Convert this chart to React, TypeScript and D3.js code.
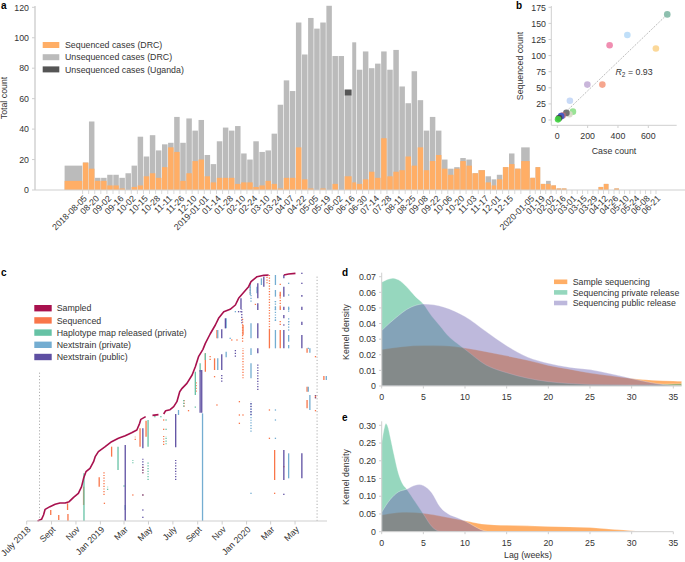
import * as React from 'react';
import * as d3 from 'd3';

// a: weekly counts
const totalDRC = [16,18,45,8,8,10,10,8,11,16,35,22,36,26,30,31,48,31,47,39,46,23,17,32,41,39,42,24,20,32,25,26,37,56,72,65,110,89,113,106,110,121,88,88,62,97,79,91,80,83,91,79,92,68,57,78,59,39,48,39,20,14,15,21,20,11,13,9,7,10,15,24,14,28,8,15,4,6,3,1,1,0,0,0,0,0,0,2,4,0,1,0,0,0,0,0,0,0,0,0];
const sequencedDRC = [6,18,14,6,6,3,3,1,0,2,3,9,11,8,15,28,25,6,11,19,20,9,5,8,8,8,4,5,5,2,3,6,4,1,8,8,28,7,1,0,1,0,4,0,9,5,4,7,12,8,34,9,12,13,22,16,28,13,19,23,14,10,14,19,16,11,13,5,3,7,15,17,14,19,8,15,4,4,3,1,1,0,0,0,0,0,0,2,4,0,1,0,0,0,0,0,0,0,0,0];
const ugandaCases: Record<number, number> = { 44: 4 };
// most bins are one slot, a few were pooled or cut short
const binSlots: Record<number, number> = { 0: 3, 44: 1.25, 45: 0.75, 66: 1.15, 68: 0.85, 73: 1.5 };
const weekLabels = ['2018-08-05','08-20','09-02','09-16','10-02','10-15','10-28','11-11','11-26','12-10','2019-01-01','01-14','01-28','02-10','02-24','03-10','03-24','04-07','04-22','05-05','05-19','06-02','06-16','06-30','07-14','07-28','08-11','08-25','09-08','09-22','10-06','10-20','11-03','11-17','12-01','12-15','2020-01-05','01-19','02-02','02-16','03-01','03-15','03-29','04-12','04-26','05-10','05-24','06-08','06-21'];

// b: case count vs sequenced count per health zone
const zoneCases = [725,462,345,650,297,198,83,103,80,60,35,25,12,5];
const zoneSequenced = [164,132,116,111,55,55,30,13,9,11,7,6,3,1];
const zoneColors = ['#82b9a6','#b9dcf8','#ee82a8','#fbd48e','#f59c82','#c3aed6','#c2d6f6','#8ee08a','#d8d8c8','#666666','#b86b80','#3b55c8','#444444','#3fd13f'];
const trendCases = [0,725];
const trendSequenced = [0,164];
const sequencedTicks = [0,25,50,75,100,125,150,175];

// c: days since 1 July 2018, case rank
const sampledPartA = [[27,0],[37,5],[42,18],[46,35],[58,43],[71,50],[83,54],[96,54],[106,58],[117,71],[129,83],[137,103],[142,128],[148,148],[158,158],[167,178],[171,193],[179,208],[196,223],[212,238],[229,248],[246,256],[262,265],[275,273],[282,293],[285,305],[297,313]];
const sampledPartB = [[314,317],[329,319]];
const sampledPartC = [[342,321],[347,331],[358,334],[367,343],[375,358],[382,388],[388,398],[400,413],[413,438],[421,463],[429,493],[440,515],[446,533],[458,561],[471,588],[479,608],[492,628],[508,635],[521,648],[529,668],[542,686],[554,703],[560,718],[575,733],[592,737],[604,738]];
const sampledPartD = [[642,738],[654,741],[671,743]];

// [day, first rank, last rank]
const sequencedRuns = [[60,18,33],[80,3,18],[102,33,53],[103,0,21],[142,48,103],[181,103,131],[212,193,223],[283,223,278],[298,253,301],[446,448,503],[469,453,488],[475,548,573],[540,558,588],[606,518,573],[619,123,213],[633,518,573],[633,633,643],[633,673,688],[721,368,378],[742,423,435],[700,338,363],[700,388,403],[700,505,518]];
const sequencedDots = [[193,78,148],[194,53,53],[265,78,78],[271,243,253],[290,143,163],[290,78,78],[342,228,255],[342,275,275],[342,303,303],[393,343,363],[404,331,331],[423,388,418],[458,483,498],[469,433,433],[475,348,348],[512,543,543],[525,543,543],[531,293,293],[531,318,318],[531,358,358],[540,428,518],[539,538,608],[540,318,318],[558,683,703],[571,648,653],[606,248,248],[606,333,333],[606,573,738],[619,83,83],[633,643,683],[633,588,603],[633,708,713],[642,163,163],[600,713,738],[721,331,331],[721,493,493]];
const haplotypeRuns = [[143,0,143],[228,153,223],[303,223,303],[421,378,448],[433,448,473],[446,483,503]];
const haplotypeDots = [[303,123,178],[265,173,183],[202,93,103],[243,105,105],[320,313,313],[335,313,313],[348,230,255],[348,275,275],[348,303,303],[392,343,363],[421,340,345]];
const privateRuns = [[439,0,323],[246,33,48],[379,318,333],[477,548,573],[477,453,488],[498,491,508],[498,578,608],[560,548,593],[560,498,518],[560,428,473],[558,678,713],[575,683,703],[586,708,728],[621,518,573],[621,633,643],[621,673,693],[621,708,738],[654,128,203],[654,538,558],[654,518,528],[654,633,643],[703,388,403],[707,333,378],[707,505,518],[748,423,435]];
const privateDots = [[560,83,83],[621,248,248],[621,303,303],[621,333,333],[621,603,603],[621,658,658],[560,268,358],[560,658,683],[621,600,660],[654,580,610],[654,628,638],[654,678,678],[654,713,713],[654,598,598],[654,573,573],[703,518,518],[508,548,548],[521,628,628]];
const publicRuns = [[246,0,228],[372,221,321],[433,325,453],[437,325,453],[487,453,500],[487,548,575],[496,578,608],[535,635,668],[577,668,713],[577,633,653],[577,548,593],[577,503,518],[592,703,733],[642,123,213],[642,518,573],[642,633,643],[642,608,618],[642,673,703],[642,728,738],[687,128,203],[687,518,558],[687,633,643],[687,673,678],[687,588,598],[290,218,278]];
const publicDots = [[372,123,183],[487,418,438],[537,593,635],[577,393,473],[560,318,358],[642,80,80],[642,588,588],[687,713,713],[687,743,743],[290,143,188],[290,78,78],[290,33,33],[290,11,11],[521,493,513],[529,628,628],[535,628,628],[721,368,378]];
const monthDays = [0,62,123,184,243,304,365,427,488,549,609,670];
const monthLabels = ['July 2018','Sept','Nov','Jan 2019','Mar','May','July','Sept','Nov','Jan 2020','Mar','May'];
const studyWindows = [[32,448],[725,738]];

// d: kernel densities, 2018-20 lag
const dSampleLag = [0,2.5,5,7.5,10,12.5,15,17.5,20,22.5,25,27.5,30,32.5,35,36];
const dSampleKde = [.0233,.0252,.0259,.0257,.0243,.022,.0193,.0165,.0132,.0108,.0083,.0065,.0048,.0037,.0032,.003];
const dPrivateLag = [0,1,1.3,2,3,4,5,6,7,8,9,10,12.5,15,17.5,20,22.5,25,30,32,34,36];
const dPrivateKde = [.0665,.0687,.069,.068,.0635,.0575,.0525,.0448,.0385,.032,.0275,.0235,.0135,.0085,.005,.0028,.0016,.001,.0007,.0008,.0012,.0015];
const dPublicLag = [0,1,2,3,4,5,7.5,10,12.5,15,17.5,20,22.5,25,27.5,30,32,34,36];
const dPublicKde = [.0355,.0405,.045,.049,.0515,.0525,.0505,.0445,.035,.0258,.0185,.0145,.012,.0105,.0078,.0048,.0025,.0008,.0002];

// e: kernel densities, 2020 lag
const eSampleLag = [0,2,3,5,7.5,10,12,15,20,25,28,30,32,35];
const eSampleKde = [.047,.054,.055,.052,.042,.031,.022,.018,.015,.012,.006,.003,.001,0];
const ePrivateLag = [0,.25,.5,.75,1,1.5,2,2.5,3,4,5,6,6.5,7,12,35];
const ePrivateKde = [.25,.285,.305,.295,.27,.215,.165,.135,.12,.085,.05,.015,.005,.001,0,0];
const ePublicLag = [0,1,2,3,4,4.5,5,6,7,8,9,10,11,12,13,35];
const ePublicKde = [.055,.09,.112,.12,.131,.133,.13,.11,.07,.05,.04,.03,.017,.005,0,0];

const ORANGE = '#ffae66';
const GREY = '#bbbbbb';
const DARK = '#555555';
const AXIS = '#cfcfcf';
const TEXT = '#333333';
const FONT = '"Liberation Sans", Arial, sans-serif';
const FS = 8.8;
const KDE_SAMPLE = '#ffae66';
const KDE_PRIVATE = '#16a76f';
const KDE_PUBLIC = '#6f64b2';

const PanelLabel = ({ x, y, t }: { x: number; y: number; t: string }) => (
    <text x={x} y={y} fontSize={10} fontWeight="bold" fill="#000">{t}</text>
);

const BarPanel = () => {
    const x = d3.scaleLinear().domain([0, 76.5, 100.5]).range([64.3, 530, 656]);
    const y = d3.scaleLinear().domain([0, 120]).range([190, 7.3]);
    let slot = 0;
    const starts = totalDRC.map((_, i) => {
        const s = slot;
        slot += binSlots[i] ?? 1;
        return s;
    });
    const tickSlots = weekLabels.map((_, i) => (i < 36 ? 3 + 2 * i : 76.5 + 2 * (i - 36)));
    const minor = d3.range(3, 76).concat(d3.range(76.5, 101, 1));
    const legend = [['Sequenced cases (DRC)', ORANGE], ['Unsequenced cases (DRC)', GREY], ['Unsequenced cases (Uganda)', DARK]];
    return (
        <g>
            {totalDRC.map((t, i) => {
                const x0 = x(starts[i]) + 0.3;
                const w = Math.max(0, x(starts[i] + (binSlots[i] ?? 1)) - x(starts[i]) - 0.6);
                const u = ugandaCases[i] ?? 0;
                return (
                    <g key={i}>
                        <rect x={x0} width={w} y={y(t)} height={y(0) - y(t)} fill={GREY} />
                        <rect x={x0} width={w} y={y(sequencedDRC[i])} height={y(0) - y(sequencedDRC[i])} fill={ORANGE} />
                        {u > 0 && <rect x={x0} width={w} y={y(t + u)} height={y(t) - y(t + u)} fill={DARK} />}
                    </g>
                );
            })}
            <line x1={35} x2={35} y1={6} y2={190} stroke={AXIS} strokeWidth={1.4} />
            <line x1={35} x2={685} y1={190} y2={190} stroke={AXIS} strokeWidth={1.2} />
            {y.ticks(6).map(v => (
                <g key={v}>
                    <line x1={32} x2={35} y1={y(v)} y2={y(v)} stroke={AXIS} />
                    <text x={29} y={y(v) + 3.2} textAnchor="end" fontSize={FS} fill={TEXT}>{v}</text>
                </g>
            ))}
            {minor.map(s => <line key={s} x1={x(s)} x2={x(s)} y1={190} y2={194} stroke={AXIS} strokeWidth={0.8} />)}
            {weekLabels.map((l, i) => (
                <text key={i} transform={`translate(${x(tickSlots[i]) + 5},${199}) rotate(-45)`} textAnchor="end" fontSize={FS} fill={TEXT}>{l}</text>
            ))}
            <text transform="translate(7,98) rotate(-90)" textAnchor="middle" fontSize={FS} fill={TEXT}>Total count</text>
            {legend.map(([l, c], i) => (
                <g key={l}>
                    <rect x={42.7} y={42 + i * 12.2} width={16.6} height={6} fill={c} />
                    <text x={65} y={48.2 + i * 12.2} fontSize={FS} fill={TEXT}>{l}</text>
                </g>
            ))}
        </g>
    );
};

const ScatterPanel = () => {
    const x = d3.scaleLinear().domain([0, 600]).range([557.3, 648.3]);
    const y = d3.scaleLinear().domain([0, 175]).range([120, 7.3]);
    return (
        <g>
            <line x1={x(trendCases[0])} x2={x(trendCases[1])} y1={y(trendSequenced[0])} y2={y(trendSequenced[1])} stroke="#999" strokeWidth={0.8} strokeDasharray="1.2 1.2" />
            {zoneCases.map((c, i) => <circle key={i} cx={x(c)} cy={y(zoneSequenced[i])} r={3.3} fill={zoneColors[i]} fillOpacity={0.9} />)}
            <line x1={551.3} x2={551.3} y1={6} y2={125.3} stroke={AXIS} />
            <line x1={551.3} x2={676.7} y1={125.3} y2={125.3} stroke={AXIS} />
            {sequencedTicks.map(v => (
                <g key={v}>
                    <line x1={548.5} x2={551.3} y1={y(v)} y2={y(v)} stroke={AXIS} />
                    <text x={546} y={y(v) + 3.2} textAnchor="end" fontSize={FS} fill={TEXT}>{v}</text>
                </g>
            ))}
            {x.ticks(4).map(v => (
                <g key={v}>
                    <line x1={x(v)} x2={x(v)} y1={125.3} y2={128} stroke={AXIS} />
                    <text x={x(v)} y={139} textAnchor="middle" fontSize={FS} fill={TEXT}>{v}</text>
                </g>
            ))}
            <text transform="translate(523,66) rotate(-90)" textAnchor="middle" fontSize={FS} fill={TEXT}>Sequenced count</text>
            <text x={614} y={154} textAnchor="middle" fontSize={FS} fill={TEXT}>Case count</text>
            <text x={615.5} y={75} fontSize={FS} fill={TEXT}>
                <tspan fontStyle="italic">R</tspan><tspan fontSize={6.5} dy={2}>2</tspan><tspan dy={-2}> = 0.93</tspan>
            </text>
        </g>
    );
};

const TimelinePanel = () => {
    const start = new Date(2018, 6, 1);
    const x0 = d3.scaleTime().domain([start, d3.timeDay.offset(start, 749)]).range([26.7, 326.7]);
    const x = (d: number) => x0(d3.timeDay.offset(start, d));
    const y = d3.scaleLinear().domain([0, 738]).range([521, 275]);
    const path = d3.line<number[]>().x(d => x(d[0])).y(d => y(d[1]));
    const layers = [
        { color: '#f9764a', runs: sequencedRuns, dots: sequencedDots },
        { color: '#66c2a5', runs: haplotypeRuns, dots: haplotypeDots },
        { color: '#74add1', runs: privateRuns, dots: privateDots },
        { color: '#5e4fa2', runs: publicRuns, dots: publicDots },
    ];
    const legend = [['Sampled', '#a8114e'], ['Sequenced', '#f9764a'], ['Haplotype map released (private)', '#66c2a5'], ['Nextstrain (private)', '#74add1'], ['Nextstrain (public)', '#5e4fa2']];
    return (
        <g>
            {studyWindows.map(([d, r]) => (
                <line key={d} x1={x(d)} x2={x(d)} y1={y(0)} y2={y(r)} stroke="#999" strokeWidth={0.8} strokeDasharray="1.2 2" />
            ))}
            {layers.map(l => (
                <g key={l.color} stroke={l.color}>
                    {l.runs.map((r, i) => <line key={i} x1={x(r[0])} x2={x(r[0])} y1={y(r[1])} y2={y(r[2])} strokeWidth={1.3} />)}
                    {l.dots.map((r, i) => (
                        r[1] === r[2]
                            ? <rect key={i} x={x(r[0]) - 0.65} y={y(r[1]) - 0.65} width={1.3} height={1.3} fill={l.color} stroke="none" />
                            : <line key={i} x1={x(r[0])} x2={x(r[0])} y1={y(r[1])} y2={y(r[2])} strokeWidth={1.3} strokeDasharray="1.2 1.5" />
                    ))}
                </g>
            ))}
            {[sampledPartA, sampledPartB, sampledPartC, sampledPartD].map((p, i) => (
                <path key={i} d={path(p) ?? ''} fill="none" stroke="#a8114e" strokeWidth={1.6} strokeLinejoin="round" />
            ))}
            <line x1={26.7} x2={327} y1={521} y2={521} stroke={AXIS} strokeWidth={1.2} />
            {monthDays.map((d, i) => (
                <g key={d}>
                    <line x1={x(d)} x2={x(d)} y1={521} y2={524.5} stroke={AXIS} />
                    <text transform={`translate(${x(d) + 4.5},${530}) rotate(-45)`} textAnchor="end" fontSize={FS} fill={TEXT}>{monthLabels[i]}</text>
                </g>
            ))}
            {legend.map(([l, c], i) => (
                <g key={l}>
                    <rect x={34.3} y={305 + i * 12.2} width={17.4} height={6.4} fill={c} />
                    <text x={56.7} y={311.4 + i * 12.2} fontSize={FS} fill={TEXT}>{l}</text>
                </g>
            ))}
        </g>
    );
};

const KdePanel = ({ curves, yMax, yTicks, top, bottom, xMax, title }: {
    curves: { lag: number[]; kde: number[]; color: string; alpha: number }[];
    yMax: number; yTicks: number[]; top: number; bottom: number; xMax: number; title: number;
}) => {
    const x = d3.scaleLinear().domain([0, 35]).range([381.7, 673.3]);
    const y = d3.scaleLinear().domain([0, yMax]).range([bottom, top]);
    return (
        <g>
            {curves.map(c => {
                const a = d3.area<number>()
                    .x((_, i) => x(c.lag[i]))
                    .y0(y(0))
                    .y1(d => y(d))
                    .curve(d3.curveMonotoneX);
                return <path key={c.color} d={a(c.kde) ?? ''} fill={c.color} fillOpacity={c.alpha} stroke="#fff" strokeOpacity={0.6} strokeWidth={0.5} />;
            })}
            <line x1={381.7} x2={381.7} y1={top - 4} y2={bottom} stroke={AXIS} />
            <line x1={381.7} x2={x(xMax)} y1={bottom} y2={bottom} stroke={AXIS} />
            {yTicks.map(v => (
                <g key={v}>
                    <line x1={379} x2={381.7} y1={y(v)} y2={y(v)} stroke={AXIS} />
                    <text x={376} y={y(v) + 3.2} textAnchor="end" fontSize={FS} fill={TEXT}>{v === 0 ? '0' : v.toFixed(2)}</text>
                </g>
            ))}
            {d3.range(0, 36, 5).map(v => (
                <g key={v}>
                    <line x1={x(v)} x2={x(v)} y1={bottom} y2={bottom + 2.5} stroke={AXIS} />
                    <text x={x(v)} y={bottom + 14} textAnchor="middle" fontSize={FS} fill={TEXT}>{v}</text>
                </g>
            ))}
            <text transform={`translate(349,${title}) rotate(-90)`} textAnchor="middle" fontSize={FS} fill={TEXT}>Kernel density</text>
        </g>
    );
};

const App = () => {
    const kdeLegend = [['Sample sequencing', '#ffae66'], ['Sequencing private release', '#95d7bd'], ['Sequencing public release', '#bdb8dc']];
    return (
        <svg width={685} height={562} style={{ position: 'absolute', left: 0, top: 0, fontFamily: FONT }}>
            <rect width={685} height={562} fill="#fff" />
            <PanelLabel x={1} y={9} t="a" />
            <PanelLabel x={516} y={9} t="b" />
            <PanelLabel x={1} y={276} t="c" />
            <PanelLabel x={342} y={276} t="d" />
            <PanelLabel x={342} y={421} t="e" />
            <BarPanel />
            <ScatterPanel />
            <TimelinePanel />
            <KdePanel
                curves={[
                    { lag: dSampleLag, kde: dSampleKde, color: KDE_SAMPLE, alpha: 1 },
                    { lag: dPrivateLag, kde: dPrivateKde, color: KDE_PRIVATE, alpha: 0.45 },
                    { lag: dPublicLag, kde: dPublicKde, color: KDE_PUBLIC, alpha: 0.45 },
                ]}
                yMax={0.07} yTicks={[0, .01, .02, .03, .04, .05, .06, .07]}
                top={276.7} bottom={386} xMax={36} title={332}
            />
            <KdePanel
                curves={[
                    { lag: eSampleLag, kde: eSampleKde, color: KDE_SAMPLE, alpha: 1 },
                    { lag: ePrivateLag, kde: ePrivateKde, color: KDE_PRIVATE, alpha: 0.45 },
                    { lag: ePublicLag, kde: ePublicKde, color: KDE_PUBLIC, alpha: 0.45 },
                ]}
                yMax={0.3} yTicks={[0, .05, .1, .15, .2, .25, .3]}
                top={425.3} bottom={531.7} xMax={35} title={477}
            />
            <text x={528} y={558} textAnchor="middle" fontSize={FS} fill={TEXT}>Lag (weeks)</text>
            {kdeLegend.map(([l, c], i) => (
                <g key={l}>
                    <rect x={554} y={279.5 + i * 10.6} width={13.3} height={4.6} fill={c} />
                    <text x={572.7} y={285 + i * 10.6} fontSize={FS} fill={TEXT}>{l}</text>
                </g>
            ))}
        </svg>
    );
};

export default App;
